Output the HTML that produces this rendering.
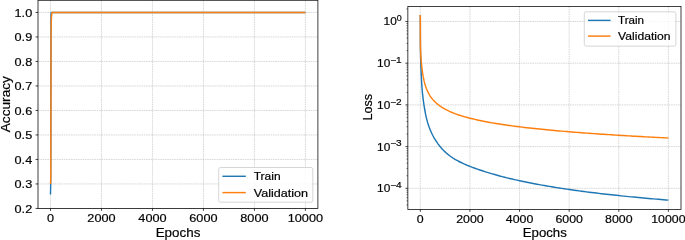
<!DOCTYPE html>
<html><head><meta charset="utf-8"><title>plot</title>
<style>
html,body{margin:0;padding:0;background:#fff;}
body{width:685px;height:240px;overflow:hidden;}
svg{display:block;will-change:transform;font-family:"Liberation Sans",sans-serif;}
text{fill:#000;opacity:0.99;stroke:#000;stroke-width:0.2px;}
.g{stroke:#b0b0b0;stroke-width:0.5;stroke-dasharray:1.6 0.75;fill:none;}
.sp{fill:none;stroke:#111;stroke-width:0.8;}
.tk{stroke:#111;stroke-width:0.8;}
.mtk{stroke:#111;stroke-width:0.55;}
</style></head><body>
<svg width="685" height="240" viewBox="0 0 685 240">
<rect width="685" height="240" fill="#fff"/>
<line x1="50.50" y1="0.3" x2="50.50" y2="208.45" class="g"/>
<line x1="101.48" y1="0.3" x2="101.48" y2="208.45" class="g"/>
<line x1="152.46" y1="0.3" x2="152.46" y2="208.45" class="g"/>
<line x1="203.44" y1="0.3" x2="203.44" y2="208.45" class="g"/>
<line x1="254.42" y1="0.3" x2="254.42" y2="208.45" class="g"/>
<line x1="305.40" y1="0.3" x2="305.40" y2="208.45" class="g"/>
<line x1="38.0" y1="208.45" x2="317.9" y2="208.45" class="g"/>
<line x1="38.0" y1="183.95" x2="317.9" y2="183.95" class="g"/>
<line x1="38.0" y1="159.45" x2="317.9" y2="159.45" class="g"/>
<line x1="38.0" y1="134.95" x2="317.9" y2="134.95" class="g"/>
<line x1="38.0" y1="110.45" x2="317.9" y2="110.45" class="g"/>
<line x1="38.0" y1="85.95" x2="317.9" y2="85.95" class="g"/>
<line x1="38.0" y1="61.45" x2="317.9" y2="61.45" class="g"/>
<line x1="38.0" y1="36.95" x2="317.9" y2="36.95" class="g"/>
<line x1="38.0" y1="12.45" x2="317.9" y2="12.45" class="g"/>
<clipPath id="cl"><rect x="38.00" y="0.30" width="279.90" height="208.15"/></clipPath>
<g clip-path="url(#cl)">
<polyline points="50.50,194.48 50.70,183.95 50.83,110.45 50.93,36.95 51.04,16.12 51.21,12.45 51.52,12.45 305.40,12.45" fill="none" stroke="#1f77b4" stroke-width="1.45" stroke-linejoin="round" stroke-linecap="butt"/>
<polyline points="50.50,183.95 50.75,179.05 50.91,110.45 51.01,41.85 51.11,29.60 51.32,21.03 51.52,16.12 52.03,12.45 305.40,12.45" fill="none" stroke="#ff7f0e" stroke-width="1.45" stroke-linejoin="round" stroke-linecap="butt"/>
</g>
<rect x="38.0" y="0.3" width="279.90" height="208.15" class="sp"/>
<line x1="50.50" y1="208.45" x2="50.50" y2="210.85" class="tk"/>
<text x="50.50" y="222.35" font-size="11.3" text-anchor="middle" textLength="7.06" lengthAdjust="spacingAndGlyphs">0</text>
<line x1="101.48" y1="208.45" x2="101.48" y2="210.85" class="tk"/>
<text x="101.48" y="222.35" font-size="11.3" text-anchor="middle" textLength="28.24" lengthAdjust="spacingAndGlyphs">2000</text>
<line x1="152.46" y1="208.45" x2="152.46" y2="210.85" class="tk"/>
<text x="152.46" y="222.35" font-size="11.3" text-anchor="middle" textLength="28.24" lengthAdjust="spacingAndGlyphs">4000</text>
<line x1="203.44" y1="208.45" x2="203.44" y2="210.85" class="tk"/>
<text x="203.44" y="222.35" font-size="11.3" text-anchor="middle" textLength="28.24" lengthAdjust="spacingAndGlyphs">6000</text>
<line x1="254.42" y1="208.45" x2="254.42" y2="210.85" class="tk"/>
<text x="254.42" y="222.35" font-size="11.3" text-anchor="middle" textLength="28.24" lengthAdjust="spacingAndGlyphs">8000</text>
<line x1="305.40" y1="208.45" x2="305.40" y2="210.85" class="tk"/>
<text x="305.40" y="222.35" font-size="11.3" text-anchor="middle" textLength="35.30" lengthAdjust="spacingAndGlyphs">10000</text>
<line x1="35.6" y1="208.45" x2="38.0" y2="208.45" class="tk"/>
<text x="32.20" y="212.60" font-size="11.3" text-anchor="end" textLength="17.65" lengthAdjust="spacingAndGlyphs">0.2</text>
<line x1="35.6" y1="183.95" x2="38.0" y2="183.95" class="tk"/>
<text x="32.20" y="188.10" font-size="11.3" text-anchor="end" textLength="17.65" lengthAdjust="spacingAndGlyphs">0.3</text>
<line x1="35.6" y1="159.45" x2="38.0" y2="159.45" class="tk"/>
<text x="32.20" y="163.60" font-size="11.3" text-anchor="end" textLength="17.65" lengthAdjust="spacingAndGlyphs">0.4</text>
<line x1="35.6" y1="134.95" x2="38.0" y2="134.95" class="tk"/>
<text x="32.20" y="139.10" font-size="11.3" text-anchor="end" textLength="17.65" lengthAdjust="spacingAndGlyphs">0.5</text>
<line x1="35.6" y1="110.45" x2="38.0" y2="110.45" class="tk"/>
<text x="32.20" y="114.60" font-size="11.3" text-anchor="end" textLength="17.65" lengthAdjust="spacingAndGlyphs">0.6</text>
<line x1="35.6" y1="85.95" x2="38.0" y2="85.95" class="tk"/>
<text x="32.20" y="90.10" font-size="11.3" text-anchor="end" textLength="17.65" lengthAdjust="spacingAndGlyphs">0.7</text>
<line x1="35.6" y1="61.45" x2="38.0" y2="61.45" class="tk"/>
<text x="32.20" y="65.60" font-size="11.3" text-anchor="end" textLength="17.65" lengthAdjust="spacingAndGlyphs">0.8</text>
<line x1="35.6" y1="36.95" x2="38.0" y2="36.95" class="tk"/>
<text x="32.20" y="41.10" font-size="11.3" text-anchor="end" textLength="17.65" lengthAdjust="spacingAndGlyphs">0.9</text>
<line x1="35.6" y1="12.45" x2="38.0" y2="12.45" class="tk"/>
<text x="32.20" y="16.60" font-size="11.3" text-anchor="end" textLength="17.65" lengthAdjust="spacingAndGlyphs">1.0</text>
<text x="178.00" y="236.90" font-size="12.7" text-anchor="middle" textLength="44.70" lengthAdjust="spacingAndGlyphs">Epochs</text>
<text transform="translate(10.3,104.2) rotate(-90)" font-size="12.7" text-anchor="middle" textLength="56.3" lengthAdjust="spacingAndGlyphs">Accuracy</text>
<rect x="218.7" y="167.5" width="94.10" height="34.70" rx="1.8" ry="1.8" fill="#fff" fill-opacity="0.8" stroke="#ccc" stroke-width="0.8"/>
<line x1="222.40" y1="176.30" x2="245.80" y2="176.30" stroke="#1f77b4" stroke-width="1.45"/>
<line x1="222.40" y1="192.60" x2="245.80" y2="192.60" stroke="#ff7f0e" stroke-width="1.45"/>
<text x="253.70" y="180.30" font-size="11.0" text-anchor="start" textLength="26.90" lengthAdjust="spacingAndGlyphs">Train</text>
<text x="253.70" y="196.60" font-size="11.0" text-anchor="start" textLength="54.30" lengthAdjust="spacingAndGlyphs">Validation</text>
<line x1="420.30" y1="6.4" x2="420.30" y2="209.4" class="g"/>
<line x1="469.92" y1="6.4" x2="469.92" y2="209.4" class="g"/>
<line x1="519.54" y1="6.4" x2="519.54" y2="209.4" class="g"/>
<line x1="569.16" y1="6.4" x2="569.16" y2="209.4" class="g"/>
<line x1="618.78" y1="6.4" x2="618.78" y2="209.4" class="g"/>
<line x1="668.40" y1="6.4" x2="668.40" y2="209.4" class="g"/>
<line x1="407.85" y1="188.30" x2="681.0" y2="188.30" class="g"/>
<line x1="407.85" y1="146.60" x2="681.0" y2="146.60" class="g"/>
<line x1="407.85" y1="104.90" x2="681.0" y2="104.90" class="g"/>
<line x1="407.85" y1="63.20" x2="681.0" y2="63.20" class="g"/>
<line x1="407.85" y1="21.50" x2="681.0" y2="21.50" class="g"/>
<clipPath id="cr"><rect x="407.85" y="6.40" width="273.15" height="203.00"/></clipPath>
<g clip-path="url(#cr)">
<polyline points="420.32,15.00 420.40,42.84 420.47,49.98 420.55,54.24 420.62,57.47 420.70,60.17 420.77,62.56 420.85,64.75 420.92,66.78 420.99,68.69 421.07,70.50 421.14,72.23 421.22,73.90 421.29,75.50 421.37,77.05 421.44,78.54 421.52,79.97 421.59,81.33 421.66,82.62 421.74,83.86 421.81,85.03 421.89,86.14 421.96,87.19 422.04,88.19 422.11,89.14 422.19,90.03 422.26,90.89 422.33,91.71 422.41,92.50 422.48,93.25 422.56,93.98 422.63,94.68 422.71,95.37 422.78,96.03 422.86,96.67 422.93,97.30 423.00,97.91 423.08,98.51 423.15,99.10 423.23,99.67 423.30,100.23 423.38,100.79 423.45,101.33 423.53,101.86 423.60,102.39 423.67,102.91 423.75,103.42 423.82,103.93 423.90,104.43 423.97,104.93 424.05,105.42 424.12,105.90 424.20,106.38 424.27,106.85 424.34,107.32 424.42,107.78 424.49,108.24 424.57,108.69 424.64,109.13 424.72,109.57 424.79,110.00 424.87,110.43 424.94,110.85 425.01,111.26 425.09,111.67 425.16,112.07 425.24,112.46 425.26,112.59 425.76,115.06 426.25,117.29 426.75,119.31 427.25,121.16 427.74,122.88 428.24,124.47 428.74,125.95 429.23,127.35 429.73,128.66 430.22,129.90 430.72,131.08 431.22,132.20 431.71,133.27 432.21,134.30 432.70,135.28 433.20,136.22 433.70,137.13 434.19,138.01 434.69,138.85 435.19,139.67 435.68,140.46 436.18,141.23 436.67,141.97 437.17,142.70 437.67,143.40 438.16,144.08 438.66,144.74 439.16,145.38 439.65,146.01 440.15,146.62 440.64,147.21 441.14,147.79 441.64,148.35 442.13,148.90 442.63,149.43 443.13,149.95 443.62,150.46 444.12,150.95 444.61,151.43 445.11,151.90 445.61,152.36 446.10,152.81 446.60,153.24 447.09,153.67 447.59,154.08 448.09,154.49 448.58,154.89 449.08,155.27 449.58,155.65 450.07,156.02 450.57,156.38 451.06,156.74 451.56,157.08 452.06,157.42 452.55,157.75 453.05,158.08 453.55,158.39 454.04,158.70 454.54,159.01 455.03,159.31 455.53,159.60 456.03,159.88 456.52,160.17 457.02,160.44 457.51,160.71 458.01,160.98 458.51,161.24 459.00,161.50 459.50,161.76 460.00,162.01 460.49,162.25 460.99,162.49 461.48,162.73 461.98,162.97 462.48,163.20 462.97,163.43 463.47,163.66 463.97,163.88 464.46,164.10 464.96,164.32 465.45,164.54 465.95,164.75 466.45,164.96 466.94,165.17 467.44,165.38 467.94,165.58 468.43,165.78 468.93,165.98 469.42,166.18 469.92,166.38 472.40,167.33 474.88,168.25 477.36,169.13 479.84,169.98 482.32,170.81 484.81,171.61 487.29,172.38 489.77,173.13 492.25,173.86 494.73,174.57 497.21,175.26 499.69,175.93 502.17,176.59 504.65,177.22 507.13,177.84 509.62,178.44 512.10,179.03 514.58,179.60 517.06,180.16 519.54,180.71 522.02,181.24 524.50,181.77 526.98,182.27 529.46,182.77 531.95,183.26 534.43,183.74 536.91,184.20 539.39,184.66 541.87,185.11 544.35,185.55 546.83,185.97 549.31,186.40 551.79,186.81 554.27,187.21 556.75,187.61 559.24,188.00 561.72,188.38 564.20,188.76 566.68,189.13 569.16,189.49 571.64,189.84 574.12,190.19 576.60,190.54 579.08,190.87 581.57,191.21 584.05,191.53 586.53,191.85 589.01,192.17 591.49,192.48 593.97,192.78 596.45,193.09 598.93,193.38 601.41,193.67 603.89,193.96 606.38,194.24 608.86,194.52 611.34,194.79 613.82,195.06 616.30,195.33 618.78,195.59 621.26,195.85 623.74,196.11 626.22,196.36 628.70,196.60 631.18,196.85 633.67,197.09 636.15,197.33 638.63,197.56 641.11,197.79 643.59,198.02 646.07,198.24 648.55,198.47 651.03,198.69 653.51,198.90 656.00,199.12 658.48,199.33 660.96,199.53 663.44,199.74 665.92,199.94 668.40,200.14" fill="none" stroke="#1f77b4" stroke-width="1.45" stroke-linejoin="round" stroke-linecap="butt"/>
<polyline points="420.32,15.00 420.40,39.37 420.47,45.70 420.55,49.18 420.62,51.59 420.70,53.45 420.77,55.00 420.85,56.33 420.92,57.52 420.99,58.59 421.07,59.58 421.14,60.51 421.22,61.37 421.29,62.19 421.37,62.97 421.44,63.72 421.52,64.44 421.59,65.13 421.66,65.80 421.74,66.44 421.81,67.07 421.89,67.68 421.96,68.27 422.04,68.85 422.11,69.41 422.19,69.96 422.26,70.50 422.33,71.03 422.41,71.55 422.48,72.05 422.56,72.55 422.63,73.04 422.71,73.51 422.78,73.98 422.86,74.43 422.93,74.88 423.00,75.32 423.08,75.74 423.15,76.16 423.23,76.57 423.30,76.98 423.38,77.37 423.45,77.75 423.53,78.13 423.60,78.50 423.67,78.87 423.75,79.22 423.82,79.57 423.90,79.91 423.97,80.25 424.05,80.58 424.12,80.90 424.20,81.22 424.27,81.53 424.34,81.84 424.42,82.14 424.49,82.43 424.57,82.72 424.64,83.01 424.72,83.29 424.79,83.56 424.87,83.83 424.94,84.10 425.01,84.36 425.09,84.62 425.16,84.87 425.24,85.12 425.26,85.20 425.76,86.75 426.25,88.14 426.75,89.42 427.25,90.59 427.74,91.67 428.24,92.67 428.74,93.61 429.23,94.48 429.73,95.31 430.22,96.08 430.72,96.82 431.22,97.51 431.71,98.17 432.21,98.80 432.70,99.40 433.20,99.98 433.70,100.53 434.19,101.06 434.69,101.57 435.19,102.05 435.68,102.53 436.18,102.98 436.67,103.42 437.17,103.84 437.67,104.25 438.16,104.65 438.66,105.03 439.16,105.40 439.65,105.76 440.15,106.12 440.64,106.46 441.14,106.79 441.64,107.11 442.13,107.43 442.63,107.74 443.13,108.04 443.62,108.33 444.12,108.62 444.61,108.90 445.11,109.17 445.61,109.44 446.10,109.70 446.60,109.95 447.09,110.20 447.59,110.45 448.09,110.69 448.58,110.92 449.08,111.16 449.58,111.38 450.07,111.60 450.57,111.82 451.06,112.04 451.56,112.25 452.06,112.46 452.55,112.66 453.05,112.86 453.55,113.06 454.04,113.25 454.54,113.44 455.03,113.63 455.53,113.81 456.03,114.00 456.52,114.17 457.02,114.35 457.51,114.53 458.01,114.70 458.51,114.87 459.00,115.03 459.50,115.20 460.00,115.36 460.49,115.52 460.99,115.68 461.48,115.83 461.98,115.99 462.48,116.14 462.97,116.29 463.47,116.44 463.97,116.58 464.46,116.73 464.96,116.87 465.45,117.01 465.95,117.15 466.45,117.29 466.94,117.42 467.44,117.56 467.94,117.69 468.43,117.82 468.93,117.95 469.42,118.08 469.92,118.21 472.40,118.82 474.88,119.41 477.36,119.97 479.84,120.50 482.32,121.01 484.81,121.50 487.29,121.97 489.77,122.42 492.25,122.85 494.73,123.27 497.21,123.68 499.69,124.07 502.17,124.45 504.65,124.82 507.13,125.17 509.62,125.52 512.10,125.85 514.58,126.18 517.06,126.50 519.54,126.81 522.02,127.11 524.50,127.41 526.98,127.69 529.46,127.97 531.95,128.25 534.43,128.52 536.91,128.78 539.39,129.04 541.87,129.29 544.35,129.54 546.83,129.78 549.31,130.01 551.79,130.25 554.27,130.47 556.75,130.70 559.24,130.92 561.72,131.13 564.20,131.35 566.68,131.56 569.16,131.76 571.64,131.96 574.12,132.16 576.60,132.36 579.08,132.55 581.57,132.74 584.05,132.92 586.53,133.11 589.01,133.29 591.49,133.47 593.97,133.64 596.45,133.82 598.93,133.99 601.41,134.16 603.89,134.32 606.38,134.49 608.86,134.65 611.34,134.81 613.82,134.97 616.30,135.12 618.78,135.28 621.26,135.43 623.74,135.58 626.22,135.73 628.70,135.88 631.18,136.02 633.67,136.17 636.15,136.31 638.63,136.45 641.11,136.59 643.59,136.73 646.07,136.86 648.55,137.00 651.03,137.13 653.51,137.26 656.00,137.39 658.48,137.52 660.96,137.65 663.44,137.78 665.92,137.90 668.40,138.03" fill="none" stroke="#ff7f0e" stroke-width="1.45" stroke-linejoin="round" stroke-linecap="butt"/>
</g>
<rect x="407.85" y="6.4" width="273.15" height="203.00" class="sp"/>
<line x1="420.30" y1="209.4" x2="420.30" y2="211.8" class="tk"/>
<text x="420.30" y="222.90" font-size="11.0" text-anchor="middle" textLength="6.87" lengthAdjust="spacingAndGlyphs">0</text>
<line x1="469.92" y1="209.4" x2="469.92" y2="211.8" class="tk"/>
<text x="469.92" y="222.90" font-size="11.0" text-anchor="middle" textLength="27.48" lengthAdjust="spacingAndGlyphs">2000</text>
<line x1="519.54" y1="209.4" x2="519.54" y2="211.8" class="tk"/>
<text x="519.54" y="222.90" font-size="11.0" text-anchor="middle" textLength="27.48" lengthAdjust="spacingAndGlyphs">4000</text>
<line x1="569.16" y1="209.4" x2="569.16" y2="211.8" class="tk"/>
<text x="569.16" y="222.90" font-size="11.0" text-anchor="middle" textLength="27.48" lengthAdjust="spacingAndGlyphs">6000</text>
<line x1="618.78" y1="209.4" x2="618.78" y2="211.8" class="tk"/>
<text x="618.78" y="222.90" font-size="11.0" text-anchor="middle" textLength="27.48" lengthAdjust="spacingAndGlyphs">8000</text>
<line x1="668.40" y1="209.4" x2="668.40" y2="211.8" class="tk"/>
<text x="668.40" y="222.90" font-size="11.0" text-anchor="middle" textLength="34.34" lengthAdjust="spacingAndGlyphs">10000</text>
<line x1="405.45000000000005" y1="188.30" x2="407.85" y2="188.30" class="tk"/>
<text x="401.60" y="188.00" font-size="8.7" text-anchor="end" textLength="11.45" lengthAdjust="spacingAndGlyphs">−4</text>
<text x="390.25" y="192.20" font-size="11.3" text-anchor="end" textLength="13.20" lengthAdjust="spacingAndGlyphs">10</text>
<line x1="405.45000000000005" y1="146.60" x2="407.85" y2="146.60" class="tk"/>
<text x="401.60" y="146.30" font-size="8.7" text-anchor="end" textLength="11.45" lengthAdjust="spacingAndGlyphs">−3</text>
<text x="390.25" y="150.50" font-size="11.3" text-anchor="end" textLength="13.20" lengthAdjust="spacingAndGlyphs">10</text>
<line x1="405.45000000000005" y1="104.90" x2="407.85" y2="104.90" class="tk"/>
<text x="401.60" y="104.60" font-size="8.7" text-anchor="end" textLength="11.45" lengthAdjust="spacingAndGlyphs">−2</text>
<text x="390.25" y="108.80" font-size="11.3" text-anchor="end" textLength="13.20" lengthAdjust="spacingAndGlyphs">10</text>
<line x1="405.45000000000005" y1="63.20" x2="407.85" y2="63.20" class="tk"/>
<text x="401.60" y="62.90" font-size="8.7" text-anchor="end" textLength="11.45" lengthAdjust="spacingAndGlyphs">−1</text>
<text x="390.25" y="67.10" font-size="11.3" text-anchor="end" textLength="13.20" lengthAdjust="spacingAndGlyphs">10</text>
<line x1="405.45000000000005" y1="21.50" x2="407.85" y2="21.50" class="tk"/>
<text x="401.60" y="21.20" font-size="8.7" text-anchor="end" textLength="4.94" lengthAdjust="spacingAndGlyphs">0</text>
<text x="396.76" y="25.40" font-size="11.3" text-anchor="end" textLength="13.20" lengthAdjust="spacingAndGlyphs">10</text>
<line x1="406.45000000000005" y1="204.89" x2="407.85" y2="204.89" class="mtk"/>
<line x1="406.45000000000005" y1="200.85" x2="407.85" y2="200.85" class="mtk"/>
<line x1="406.45000000000005" y1="197.55" x2="407.85" y2="197.55" class="mtk"/>
<line x1="406.45000000000005" y1="194.76" x2="407.85" y2="194.76" class="mtk"/>
<line x1="406.45000000000005" y1="192.34" x2="407.85" y2="192.34" class="mtk"/>
<line x1="406.45000000000005" y1="190.21" x2="407.85" y2="190.21" class="mtk"/>
<line x1="406.45000000000005" y1="175.75" x2="407.85" y2="175.75" class="mtk"/>
<line x1="406.45000000000005" y1="168.40" x2="407.85" y2="168.40" class="mtk"/>
<line x1="406.45000000000005" y1="163.19" x2="407.85" y2="163.19" class="mtk"/>
<line x1="406.45000000000005" y1="159.15" x2="407.85" y2="159.15" class="mtk"/>
<line x1="406.45000000000005" y1="155.85" x2="407.85" y2="155.85" class="mtk"/>
<line x1="406.45000000000005" y1="153.06" x2="407.85" y2="153.06" class="mtk"/>
<line x1="406.45000000000005" y1="150.64" x2="407.85" y2="150.64" class="mtk"/>
<line x1="406.45000000000005" y1="148.51" x2="407.85" y2="148.51" class="mtk"/>
<line x1="406.45000000000005" y1="134.05" x2="407.85" y2="134.05" class="mtk"/>
<line x1="406.45000000000005" y1="126.70" x2="407.85" y2="126.70" class="mtk"/>
<line x1="406.45000000000005" y1="121.49" x2="407.85" y2="121.49" class="mtk"/>
<line x1="406.45000000000005" y1="117.45" x2="407.85" y2="117.45" class="mtk"/>
<line x1="406.45000000000005" y1="114.15" x2="407.85" y2="114.15" class="mtk"/>
<line x1="406.45000000000005" y1="111.36" x2="407.85" y2="111.36" class="mtk"/>
<line x1="406.45000000000005" y1="108.94" x2="407.85" y2="108.94" class="mtk"/>
<line x1="406.45000000000005" y1="106.81" x2="407.85" y2="106.81" class="mtk"/>
<line x1="406.45000000000005" y1="92.35" x2="407.85" y2="92.35" class="mtk"/>
<line x1="406.45000000000005" y1="85.00" x2="407.85" y2="85.00" class="mtk"/>
<line x1="406.45000000000005" y1="79.79" x2="407.85" y2="79.79" class="mtk"/>
<line x1="406.45000000000005" y1="75.75" x2="407.85" y2="75.75" class="mtk"/>
<line x1="406.45000000000005" y1="72.45" x2="407.85" y2="72.45" class="mtk"/>
<line x1="406.45000000000005" y1="69.66" x2="407.85" y2="69.66" class="mtk"/>
<line x1="406.45000000000005" y1="67.24" x2="407.85" y2="67.24" class="mtk"/>
<line x1="406.45000000000005" y1="65.11" x2="407.85" y2="65.11" class="mtk"/>
<line x1="406.45000000000005" y1="50.65" x2="407.85" y2="50.65" class="mtk"/>
<line x1="406.45000000000005" y1="43.30" x2="407.85" y2="43.30" class="mtk"/>
<line x1="406.45000000000005" y1="38.09" x2="407.85" y2="38.09" class="mtk"/>
<line x1="406.45000000000005" y1="34.05" x2="407.85" y2="34.05" class="mtk"/>
<line x1="406.45000000000005" y1="30.75" x2="407.85" y2="30.75" class="mtk"/>
<line x1="406.45000000000005" y1="27.96" x2="407.85" y2="27.96" class="mtk"/>
<line x1="406.45000000000005" y1="25.54" x2="407.85" y2="25.54" class="mtk"/>
<line x1="406.45000000000005" y1="23.41" x2="407.85" y2="23.41" class="mtk"/>
<line x1="406.45000000000005" y1="8.95" x2="407.85" y2="8.95" class="mtk"/>
<text x="544.80" y="237.40" font-size="12.4" text-anchor="middle" textLength="44.00" lengthAdjust="spacingAndGlyphs">Epochs</text>
<text transform="translate(372.1,107.2) rotate(-90)" font-size="12.4" text-anchor="middle" textLength="26.4" lengthAdjust="spacingAndGlyphs">Loss</text>
<rect x="584.3" y="11.8" width="91.60" height="34.30" rx="1.8" ry="1.8" fill="#fff" fill-opacity="0.8" stroke="#ccc" stroke-width="0.8"/>
<line x1="588.00" y1="20.40" x2="610.58" y2="20.40" stroke="#1f77b4" stroke-width="1.45"/>
<line x1="588.00" y1="36.10" x2="610.58" y2="36.10" stroke="#ff7f0e" stroke-width="1.45"/>
<text x="618.07" y="24.26" font-size="10.62" text-anchor="start" textLength="25.96" lengthAdjust="spacingAndGlyphs">Train</text>
<text x="618.07" y="39.96" font-size="10.62" text-anchor="start" textLength="52.40" lengthAdjust="spacingAndGlyphs">Validation</text>
</svg>
</body></html>
